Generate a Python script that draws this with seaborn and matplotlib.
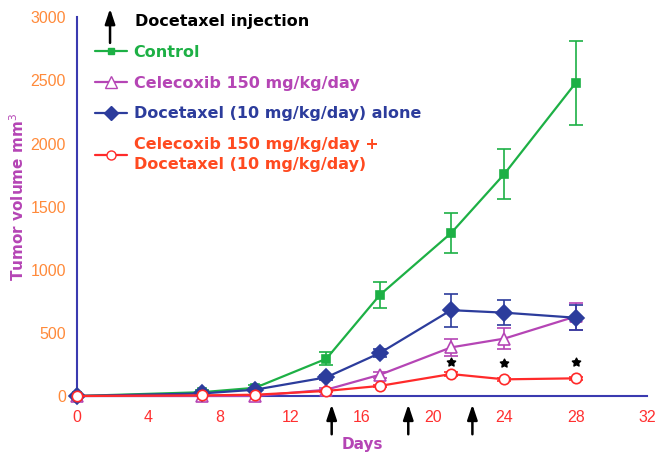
import pandas as pd
import matplotlib
matplotlib.use('Agg')
import matplotlib.pyplot as plt
import seaborn as sns
from matplotlib.lines import Line2D

# Valores
days = [0, 7, 10, 14, 17, 21, 24, 28]
control = [0, 30, 65, 295, 800, 1290, 1760, 2480]
control_err = [0, 15, 20, 50, 100, 160, 200, 330]
celecoxib = [0, 0, 0, 50, 168, 385, 455, 630]
celecoxib_err = [0, 0, 0, 10, 25, 70, 80, 110]
docetaxel = [0, 20, 50, 148, 340, 680, 660, 620]
docetaxel_err = [0, 5, 10, 20, 30, 130, 100, 100]
combo = [0, 5, 10, 40, 80, 174, 132, 140]
combo_err = [0, 0, 0, 5, 10, 15, 10, 10]
star_days = [21, 24, 28]
star_vals = [268, 258, 272]
injection_days = [14.3, 18.6, 22.2]

labels = ['Control', 'Celecoxib 150 mg/kg/day', 'Docetaxel (10 mg/kg/day) alone',
          'Celecoxib 150 mg/kg/day +\nDocetaxel (10 mg/kg/day)']
colores = ['#1db045', '#b545b5', '#2c3c9c', '#ff2a2a']
text_colores = ['#1db045', '#b545b5', '#2c3c9c', '#ff4a20']
marcadores = ['s', '^', 'D', 'o']
tamanos = [6, 9, 8, 7.5]
rellenos = [True, False, True, False]

series = [control, celecoxib, docetaxel, combo]
errores = [control_err, celecoxib_err, docetaxel_err, combo_err]

df = pd.concat([pd.DataFrame({'Days': days, 'Volume': v, 'Grupo': l})
                for v, l in zip(series, labels)])

sns.set_style('white')
plt.rcParams['font.family'] = ['DejaVu Sans']

fig = plt.figure(figsize=(6.63, 4.63), dpi=100)
ax = fig.add_axes([0.1161, 0.1447, 0.8597, 0.818])

handles = []
for i, (lab, err) in enumerate(zip(labels, errores)):
    sub = df[df['Grupo'] == lab]
    ax.errorbar(sub['Days'], sub['Volume'], yerr=err, fmt='none', ecolor=colores[i],
                elinewidth=1.2, capsize=5, capthick=1.2, clip_on=False, zorder=2)
    sns.lineplot(data=sub, x='Days', y='Volume', ax=ax, color=colores[i], linewidth=1.6,
                 marker=marcadores[i], markersize=tamanos[i],
                 markerfacecolor=colores[i] if rellenos[i] else 'white',
                 markeredgecolor=colores[i], markeredgewidth=1.2,
                 clip_on=False, zorder=3, legend=False)
    handles.append(Line2D([], [], color=colores[i], linewidth=1.6, marker=marcadores[i],
                          markersize=tamanos[i] - 1,
                          markerfacecolor=colores[i] if rellenos[i] else 'white',
                          markeredgecolor=colores[i]))

# Estrellas de significancia
ax.scatter(star_days, star_vals, marker=(5, 1), s=40, color='black', zorder=4, clip_on=False)

# Flechas de inyección
for d in injection_days:
    ax.annotate('', xy=(d, -45), xytext=(d, -325), annotation_clip=False,
                arrowprops=dict(arrowstyle='-|>,head_width=0.3,head_length=0.9',
                                color='black', lw=1.8))

ax.set_xlim(0, 32)
ax.set_ylim(0, 3000)
ax.set_xticks(range(0, 33, 4))
ax.set_yticks(range(0, 3001, 500))
sns.despine(ax=ax)
for s in ['left', 'bottom']:
    ax.spines[s].set_color('#3a3ab0')
    ax.spines[s].set_linewidth(1.5)
ax.tick_params(axis='both', direction='out', length=5, width=1.3, color='#3a3ab0', pad=3)
ax.tick_params(axis='x', labelcolor='#ff3030', length=7)
ax.tick_params(axis='y', labelcolor='#ff8a3a')
for t in ax.get_xticklabels() + ax.get_yticklabels():
    t.set_family(['Liberation Sans Narrow', 'Liberation Sans'])
    t.set_fontsize(11.5)

ax.set_xlabel('Days', color='#b545b5', fontsize=11, fontweight='bold')
ax.xaxis.set_label_coords(0.5, -0.108)
ax.set_ylabel('Tumor volume mm$^3$', color='#b545b5', fontsize=11, fontweight='bold')
ax.yaxis.set_label_coords(-0.088, 0.525)

# Leyenda
leg = ax.legend(handles, labels, loc='upper left', bbox_to_anchor=(0.032, 0.928),
                frameon=False, handlelength=2.0, handletextpad=0.4, labelspacing=1.0,
                borderaxespad=0, borderpad=0, prop={'weight': 'bold', 'size': 11.5})
for t, c in zip(leg.get_texts(), text_colores):
    t.set_color(c)
leg.get_texts()[3].set_linespacing(1.35)

ax.annotate('', xy=(0.058, 1.03), xytext=(0.058, 0.925), xycoords='axes fraction',
            annotation_clip=False,
            arrowprops=dict(arrowstyle='-|>,head_width=0.3,head_length=0.9', color='black', lw=1.8))
ax.text(0.102, 0.99, 'Docetaxel injection', transform=ax.transAxes, fontsize=11.5,
        fontweight='bold', color='black', va='center')

fig.savefig('out.png', dpi=100)
